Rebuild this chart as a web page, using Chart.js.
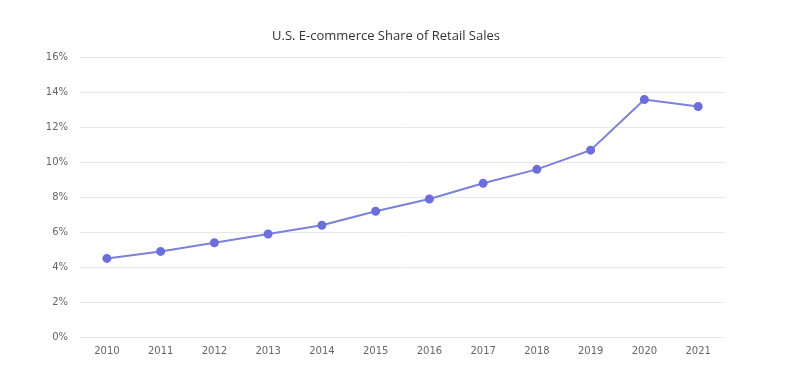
<!DOCTYPE html>
<html lang="en">
<head>
    <meta charset="UTF-8">
    <title>U.S. E-commerce Share of Retail Sales</title>
    <script src="https://cdn.jsdelivr.net/npm/chart.js"></script>
    <style>
        html, body { margin: 0; padding: 0; background: #fff; }
        #wrap { width: 810px; height: 371px; }
    </style>
</head>
<body>
<div id="wrap"><canvas id="chart"></canvas></div>
<script>
    const years = ['2010', '2011', '2012', '2013', '2014', '2015', '2016', '2017', '2018', '2019', '2020', '2021'];
    const ecommerceShare = [4.5, 4.9, 5.4, 5.9, 6.4, 7.2, 7.9, 8.8, 9.6, 10.7, 13.6, 13.2];
    const yTicks = [0, 2, 4, 6, 8, 10, 12, 14, 16];

    const tickFont = { family: 'DejaVu Sans', size: 10 };

    const config = {
        type: 'line',
        data: {
            labels: years,
            datasets: [{
                label: 'E-commerce share',
                data: ecommerceShare,
                borderColor: '#7c80d8',
                backgroundColor: '#6b6fdb',
                pointBackgroundColor: '#6b6fdb',
                pointBorderColor: '#6b6fdb',
                borderWidth: 2,
                pointRadius: 3.5,
                tension: 0
            }]
        },
        options: {
            responsive: true,
            maintainAspectRatio: false,
            animation: false,
            layout: { padding: { top: 22, right: 38, bottom: 0, left: 0 } },
            plugins: {
                legend: { display: false },
                tooltip: { enabled: false },
                title: {
                    display: true,
                    text: 'U.S. E-commerce Share of Retail Sales',
                    color: '#333',
                    font: { family: 'Open Sans', size: 13, weight: 'normal' },
                    padding: { top: 6, bottom: 14 }
                }
            },
            scales: {
                x: {
                    offset: true,
                    grid: { display: false, drawTicks: false },
                    border: { display: false },
                    ticks: { color: '#666', font: tickFont, padding: 8, maxRotation: 0 },
                    afterFit: s => { s.height = 34; }
                },
                y: {
                    min: 0,
                    max: 16,
                    afterBuildTicks: s => { s.ticks = yTicks.map(v => ({ value: v })); },
                    grid: { color: '#e8e8e8', drawTicks: false },
                    border: { display: false },
                    ticks: {
                        color: '#666',
                        font: tickFont,
                        padding: 12,
                        callback: v => v + '%'
                    },
                    afterFit: s => { s.width = 80; }
                },
                // empty right axis, only keeps the plot narrower than the title box
                yRight: {
                    position: 'right',
                    grid: { display: false, drawTicks: false },
                    border: { display: false },
                    ticks: { display: false },
                    afterFit: s => { s.width = 47; }
                }
            }
        }
    };
    const chart = new Chart(document.getElementById('chart'), config);
</script>
</body>
</html>
